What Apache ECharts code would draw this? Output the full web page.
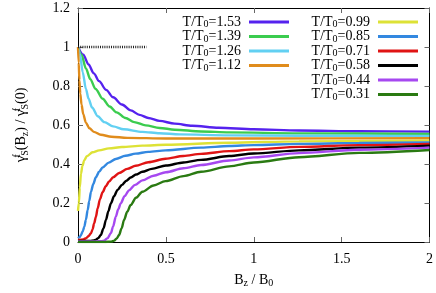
<!DOCTYPE html>
<html><head><meta charset="utf-8">
<script src="https://cdn.jsdelivr.net/npm/echarts@6/dist/echarts.min.js"></script>
<style>html,body{margin:0;padding:0;background:#fff}#c{width:436px;height:293px}</style>
</head><body><div id="c"></div>
<script>
const xTicks = [0, 0.5, 1, 1.5, 2];
const yTicks = [0, 0.2, 0.4, 0.6, 0.8, 1, 1.2];
const names = ['1.53','1.39','1.26','1.12','0.99','0.85','0.71','0.58','0.44','0.31'];
const colors = ['#5522ee','#3bcc4f','#62d0f2','#e08c1c','#dde236','#3388e0','#e01414','#000000','#a648f0','#2a7a12'];
const t153 = [[0,1],[0.03,0.96],[0.06,0.91],[0.09,0.865],[0.12,0.825],[0.16,0.78],[0.2,0.742],[0.25,0.705],[0.3,0.675],[0.35,0.652],[0.4,0.636],[0.464,0.621],[0.55,0.607],[0.65,0.596],[0.8,0.586],[1.0,0.578],[1.257,0.572],[1.6,0.568],[2,0.566]];
const t139 = [[0,1],[0.02,0.96],[0.045,0.89],[0.07,0.835],[0.1,0.785],[0.14,0.735],[0.18,0.695],[0.22,0.665],[0.27,0.636],[0.32,0.615],[0.385,0.598],[0.464,0.585],[0.55,0.576],[0.7,0.567],[0.86,0.562],[1.257,0.557],[2,0.554]];
const t126 = [[0,1],[0.011,0.965],[0.027,0.87],[0.045,0.785],[0.06,0.735],[0.08,0.69],[0.112,0.645],[0.15,0.615],[0.2,0.593],[0.26,0.578],[0.366,0.565],[0.464,0.558],[0.578,0.552],[0.86,0.547],[1.257,0.545],[2,0.544]];
const t112 = [[0,1],[0.004,0.92],[0.008,0.83],[0.013,0.76],[0.02,0.705],[0.03,0.655],[0.045,0.612],[0.065,0.583],[0.09,0.565],[0.13,0.55],[0.19,0.54],[0.28,0.534],[0.5,0.531],[1,0.531],[2,0.532]];
const t099 = [[0,0.16],[0.005,0.2],[0.01,0.28],[0.017,0.35],[0.025,0.39],[0.036,0.42],[0.05,0.44],[0.083,0.46],[0.12,0.47],[0.176,0.48],[0.25,0.487],[0.366,0.494],[0.5,0.499],[0.86,0.509],[1.257,0.516],[2,0.52]];
const t085 = [[0,0.02],[0.01,0.025],[0.017,0.036],[0.027,0.055],[0.036,0.078],[0.045,0.115],[0.055,0.164],[0.064,0.21],[0.074,0.258],[0.087,0.298],[0.102,0.332],[0.12,0.36],[0.14,0.382],[0.175,0.407],[0.215,0.426],[0.27,0.442],[0.328,0.453],[0.4,0.462],[0.498,0.47],[0.7,0.484],[0.86,0.492],[1.0,0.497],[1.257,0.503],[1.6,0.508],[2,0.511]];
const t071 = [[0,0.01],[0.03,0.013],[0.045,0.019],[0.06,0.03],[0.074,0.045],[0.083,0.065],[0.092,0.096],[0.102,0.13],[0.112,0.173],[0.125,0.22],[0.14,0.255],[0.158,0.286],[0.177,0.31],[0.2,0.332],[0.234,0.354],[0.28,0.375],[0.328,0.391],[0.4,0.409],[0.498,0.427],[0.6,0.441],[0.7,0.452],[0.86,0.466],[1.0,0.475],[1.257,0.488],[1.6,0.497],[2,0.503]];
const t058 = [[0,0.005],[0.07,0.006],[0.09,0.008],[0.102,0.012],[0.115,0.02],[0.13,0.036],[0.145,0.07],[0.159,0.113],[0.173,0.158],[0.187,0.198],[0.205,0.235],[0.225,0.267],[0.25,0.293],[0.275,0.314],[0.3,0.331],[0.33,0.346],[0.366,0.36],[0.42,0.375],[0.5,0.392],[0.6,0.408],[0.7,0.421],[0.86,0.441],[1.0,0.454],[1.257,0.47],[1.6,0.484],[2,0.494]];
const t044 = [[0,0.003],[0.1,0.003],[0.135,0.004],[0.149,0.007],[0.168,0.02],[0.187,0.045],[0.2,0.08],[0.215,0.13],[0.229,0.168],[0.243,0.198],[0.265,0.235],[0.29,0.265],[0.325,0.293],[0.366,0.316],[0.43,0.34],[0.5,0.358],[0.6,0.378],[0.7,0.395],[0.86,0.418],[1.0,0.434],[1.257,0.456],[1.6,0.473],[2,0.484]];
const t031 = [[0,0],[0.15,0],[0.19,0.002],[0.206,0.007],[0.22,0.018],[0.234,0.036],[0.248,0.07],[0.262,0.113],[0.28,0.155],[0.3,0.19],[0.33,0.227],[0.366,0.258],[0.43,0.29],[0.498,0.312],[0.6,0.338],[0.7,0.36],[0.86,0.388],[1.0,0.408],[1.257,0.435],[1.6,0.457],[2,0.472]];
const refLine = [[0,1],[0.39,1]];
const curves = [t153,t139,t126,t112,t099,t085,t071,t058,t044,t031];

const serif = '"Liberation Serif","DejaVu Serif",serif';
const rich = {
  a:{fontFamily:serif,fontSize:14,color:'#000',lineHeight:15,verticalAlign:'middle'},
  s:{fontFamily:serif,fontSize:10,color:'#000',lineHeight:10,verticalAlign:'bottom'},
  e:{fontFamily:serif,fontSize:14,color:'#000',lineHeight:15,verticalAlign:'middle',padding:[0,3,0,0]}
};
const label = n => 'T/T0=' + n;
const fmt = name => '{a|T/T}{s|0}{e|=' + name.split('=')[1] + '}';

const series = curves.map((d,i)=>({
  type:'line', name:label(names[i]), data:d, showSymbol:false, symbol:'none',
  smooth:0.3, smoothMonotone:'x',
  lineStyle:{color:colors[i], width:2.4}, itemStyle:{color:colors[i]},
  z: 3, silent:true, animation:false
}));
series.push({type:'line', data:refLine, symbol:'none', lineStyle:{color:'#222', width:2.5, type:[1,1.2]}, z:4, animation:false, silent:true});

const legendBase = {orient:'vertical', align:'right', icon:'rect', itemWidth:40, itemHeight:3, itemGap:0,
  formatter:fmt, textStyle:{rich:rich}, selectedMode:false, padding:0};

const chart = echarts.init(document.getElementById('c'), null, {renderer:'canvas'});
chart.setOption({
  animation:false,
  backgroundColor:'#fff',
  grid:{left:78, right:5, top:8, bottom:51},
  legend:[
    Object.assign({}, legendBase, {right:147, top:15, data:names.slice(0,4).map(label)}),
    Object.assign({}, legendBase, {right:18, top:15, data:names.slice(4).map(label)})
  ],
  xAxis:[{
    type:'value', min:0, max:2, interval:0.5,
    name:'{a|B}{s|z}{a| / B}{s|0}', nameLocation:'middle', nameGap:30,
    nameTextStyle:{rich:{a:{fontFamily:serif,fontSize:14,color:'#000',lineHeight:16,verticalAlign:'middle'},s:{fontFamily:serif,fontSize:10,color:'#000',lineHeight:10,verticalAlign:'bottom'}}},
    axisLine:{onZero:false, lineStyle:{color:'#000', width:1}},
    axisTick:{inside:true, length:5, lineStyle:{color:'#666'}},
    axisLabel:{fontFamily:serif, fontSize:14, color:'#000', margin:10, formatter:v=>String(v)},
    splitLine:{show:false}
  },{
    type:'value', position:'top', min:0, max:2, interval:0.5,
    axisLine:{onZero:false, lineStyle:{color:'#000', width:1}},
    axisTick:{inside:true, length:5, lineStyle:{color:'#666'}},
    axisLabel:{show:false}, splitLine:{show:false}
  }],
  yAxis:[{
    type:'value', min:0, max:1.2, interval:0.2,
    name:'{g|γ}{p|f}{b|S}{a|(B}{s|z}{a|) / }{g|γ}{p|f}{b|S}{a|(0)}', nameLocation:'middle', nameGap:48, nameRotate:90,
    nameTextStyle:{rich:{
      a:{fontFamily:serif,fontSize:14,color:'#000',lineHeight:18,verticalAlign:'middle'},
      g:{fontFamily:serif,fontSize:15,color:'#000',lineHeight:18,verticalAlign:'middle'},
      p:{fontFamily:serif,fontSize:10,color:'#000',lineHeight:10,verticalAlign:'top',width:0.01},
      b:{fontFamily:serif,fontSize:10,color:'#000',lineHeight:10,verticalAlign:'bottom'},
      s:{fontFamily:serif,fontSize:10,color:'#000',lineHeight:10,verticalAlign:'bottom'}
    }},
    axisLine:{onZero:false, lineStyle:{color:'#000', width:1}},
    axisTick:{inside:true, length:5, lineStyle:{color:'#666'}},
    axisLabel:{fontFamily:serif, fontSize:14, color:'#000', margin:8, formatter:v=>String(v)},
    splitLine:{show:false}
  },{
    type:'value', position:'right', min:0, max:1.2, interval:0.2,
    axisLine:{onZero:false, lineStyle:{color:'#000', width:1}},
    axisTick:{inside:true, length:5, lineStyle:{color:'#666'}},
    axisLabel:{show:false}, splitLine:{show:false}
  }],
  series:series
});
</script></body></html>
